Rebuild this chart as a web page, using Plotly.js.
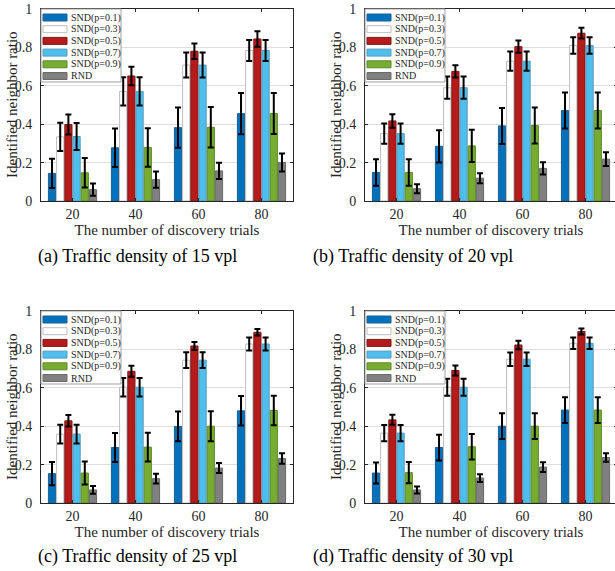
<!DOCTYPE html>
<html><head><meta charset="utf-8">
<script src="https://cdn.plot.ly/plotly-3.0.1.min.js"></script>
<style>html,body{margin:0;padding:0;overflow:hidden;background:#fff}</style>
</head><body><div id="chart" style="width:618px;height:571px"></div>
<script>
// ---------- data ----------
const trials = [20, 40, 60, 80];
const seriesNames = ['SND(p=0.1)', 'SND(p=0.3)', 'SND(p=0.5)', 'SND(p=0.7)', 'SND(p=0.9)', 'RND'];
const captions = ['(a) Traffic density of 15 vpl', '(b) Traffic density of 20 vpl',
                  '(c) Traffic density of 25 vpl', '(d) Traffic density of 30 vpl'];
const xTitle = 'The number of discovery trials';
const yTitle = 'Identified neighbor ratio';

// panel (a) 15 vpl
const valuesA = [
  [0.144, 0.277, 0.382, 0.455],
  [0.334, 0.571, 0.708, 0.784],
  [0.398, 0.651, 0.780, 0.844],
  [0.336, 0.571, 0.708, 0.784],
  [0.147, 0.279, 0.384, 0.456],
  [0.059, 0.111, 0.157, 0.200]];
const errorsA = [
  [0.076, 0.100, 0.105, 0.107],
  [0.074, 0.073, 0.065, 0.055],
  [0.052, 0.048, 0.040, 0.040],
  [0.070, 0.073, 0.065, 0.055],
  [0.077, 0.100, 0.105, 0.107],
  [0.032, 0.042, 0.042, 0.047]];
// panel (b) 20 vpl
const valuesB = [
  [0.149, 0.285, 0.391, 0.471],
  [0.351, 0.590, 0.728, 0.810],
  [0.417, 0.675, 0.804, 0.874],
  [0.351, 0.590, 0.728, 0.810],
  [0.149, 0.287, 0.393, 0.471],
  [0.064, 0.119, 0.170, 0.218]];
const errorsB = [
  [0.069, 0.084, 0.094, 0.094],
  [0.053, 0.058, 0.050, 0.043],
  [0.035, 0.032, 0.032, 0.028],
  [0.053, 0.058, 0.050, 0.043],
  [0.069, 0.084, 0.094, 0.094],
  [0.023, 0.026, 0.032, 0.036]];
// panel (c) 25 vpl
const valuesC = [
  [0.153, 0.289, 0.399, 0.480],
  [0.359, 0.603, 0.744, 0.828],
  [0.428, 0.686, 0.818, 0.889],
  [0.359, 0.603, 0.744, 0.828],
  [0.156, 0.291, 0.400, 0.482],
  [0.068, 0.127, 0.182, 0.232]];
const errorsC = [
  [0.060, 0.075, 0.078, 0.077],
  [0.049, 0.048, 0.041, 0.034],
  [0.030, 0.029, 0.021, 0.017],
  [0.049, 0.048, 0.041, 0.034],
  [0.060, 0.075, 0.078, 0.077],
  [0.020, 0.025, 0.026, 0.027]];
// panel (d) 30 vpl
const valuesD = [
  [0.156, 0.289, 0.400, 0.484],
  [0.364, 0.603, 0.749, 0.832],
  [0.433, 0.690, 0.823, 0.893],
  [0.364, 0.603, 0.749, 0.832],
  [0.158, 0.293, 0.400, 0.484],
  [0.068, 0.130, 0.187, 0.237]];
const errorsD = [
  [0.055, 0.067, 0.067, 0.067],
  [0.042, 0.044, 0.035, 0.030],
  [0.026, 0.026, 0.022, 0.016],
  [0.042, 0.044, 0.035, 0.030],
  [0.055, 0.067, 0.067, 0.067],
  [0.018, 0.020, 0.025, 0.022]];

// ---------- styling ----------
const fillColors = ['#0072BD', '#FFFFFF', '#B51B1B', '#4DBEEE', '#77AC30', '#808080'];
const edgeColors = ['#1d5e8c', '#bdbdbd', '#7e1a1a', '#5a9cb8', '#5a8a2a', '#6a6a6a'];
const FONT = 'Liberation Serif, Times New Roman, Times, serif';
const TXT = '#262626';
const W = 618, H = 571;
// plot-area pixel boxes [left, top, right, bottom]
const boxes = [[41, 9, 293, 201], [365, 9, 617, 201], [41, 311, 293, 503], [365, 311, 617, 503]];
const captionPos = [[137.5, 256], [412.5, 256], [137.5, 556], [412.5, 556]];
const panels = [[valuesA, errorsA], [valuesB, errorsB], [valuesC, errorsC], [valuesD, errorsD]];

const traces = [];
const layout = {
  width: W, height: H,
  margin: {l: 0, r: 0, t: 0, b: 0},
  paper_bgcolor: '#fff', plot_bgcolor: '#fff',
  barmode: 'group', bargap: 0.22, bargroupgap: 0.12,
  showlegend: false,
  font: {family: FONT, color: TXT},
  shapes: [], annotations: []
};

panels.forEach((p, k) => {
  const sfx = k === 0 ? '' : String(k + 1);
  const [vals, errs] = p;
  seriesNames.forEach((name, s) => {
    traces.push({
      type: 'bar', name: name, x: trials, y: vals[s],
      xaxis: 'x' + sfx, yaxis: 'y' + sfx,
      marker: {color: fillColors[s], line: {color: edgeColors[s], width: 1}},
      error_y: {type: 'data', array: errs[s], visible: true, color: '#000', thickness: 2, width: 3},
      showlegend: false, hoverinfo: 'x+y'
    });
  });
  const b = boxes[k];
  const pw = b[2] - b[0], ph = b[3] - b[1];
  layout['xaxis' + sfx] = {
    domain: [b[0] / W, b[2] / W], anchor: 'y' + sfx,
    range: [10, 90], tickvals: trials, ticktext: trials.map(String),
    ticks: 'inside', ticklen: 3, tickcolor: TXT, tickwidth: 1,
    showline: true, linecolor: TXT, linewidth: 1, mirror: 'ticks',
    showgrid: false, zeroline: false,
    tickfont: {family: FONT, size: 14, color: TXT},
    title: {text: xTitle, font: {family: FONT, size: 15, color: TXT}, standoff: 0},
    fixedrange: true
  };
  layout['yaxis' + sfx] = {
    domain: [1 - b[3] / H, 1 - b[1] / H], anchor: 'x' + sfx,
    range: [0, 1], tick0: 0, dtick: 0.2,
    ticks: 'inside', ticklen: 3, tickcolor: TXT, tickwidth: 1,
    showline: true, linecolor: TXT, linewidth: 1, mirror: 'ticks',
    showgrid: true, gridcolor: '#dedede', gridwidth: 1, zeroline: false,
    tickfont: {family: FONT, size: 14, color: TXT},
    ticklabelstandoff: 5,
    fixedrange: true
  };
  const xr = 'x' + sfx + ' domain', yr = 'y' + sfx + ' domain';
  // y-axis title, placed as rotated text beside the axis
  layout.annotations.push({xref: xr, yref: yr, x: -29 / pw, y: 0.5, xanchor: 'center', yanchor: 'middle',
    textangle: -90, showarrow: false, text: yTitle, font: {family: FONT, size: 15, color: TXT}});
  // legend box (drawn in axis-domain coordinates)
  layout.shapes.push({type: 'rect', xref: xr, yref: yr, x0: 0, x1: 80 / pw, y0: 1 - 73 / ph, y1: 1,
    fillcolor: '#fff', line: {color: '#a0a0a0', width: 1}, layer: 'above'});
  seriesNames.forEach((name, s) => {
    const cy = 8.5 + 11.7 * s;
    layout.shapes.push({type: 'rect', xref: xr, yref: yr, x0: 2 / pw, x1: 26 / pw,
      y0: 1 - (cy + 3.5) / ph, y1: 1 - (cy - 3.5) / ph,
      fillcolor: fillColors[s], line: {color: edgeColors[s], width: 1}, layer: 'above'});
    layout.annotations.push({xref: xr, yref: yr, x: 27.5 / pw, y: 1 - cy / ph,
      xanchor: 'left', yanchor: 'middle', showarrow: false, text: name,
      font: {family: FONT, size: 10, color: TXT}});
  });
  layout.annotations.push({xref: 'paper', yref: 'paper', x: captionPos[k][0] / W, y: 1 - captionPos[k][1] / H,
    xanchor: 'center', yanchor: 'middle', showarrow: false, text: captions[k],
    font: {family: FONT, size: 18, color: '#000'}});
});

Plotly.newPlot('chart', traces, layout, {displayModeBar: false, staticPlot: true});
</script>
</body></html>
